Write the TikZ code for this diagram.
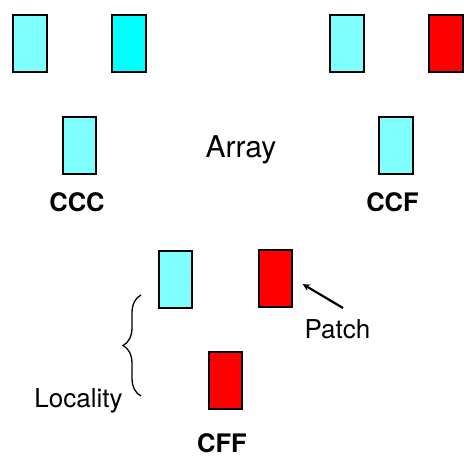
\documentclass[tikz,border=0pt]{standalone}
\usepackage{fontspec}
\setmainfont{TeX Gyre Heros}
\usetikzlibrary{positioning,arrows,decorations.pathreplacing}

\definecolor{palecyan}{RGB}{128,255,255}
\definecolor{fullcyan}{RGB}{0,255,255}
\definecolor{patchred}{RGB}{255,0,0}

\begin{document}
\begin{tikzpicture}[x=1pt,y=-1pt,
    cell/.style={draw=black, line width=2pt, minimum width=33.5pt, minimum height=57pt, inner sep=0pt},
    tag/.style={font=\fontsize{25.5}{30}\selectfont\bfseries, anchor=base},
    word/.style={font=\fontsize{26}{31}\selectfont, anchor=base},
    pointer/.style={arrows={-stealth}, line width=2.2pt, shorten >=11pt}]

    \useasboundingbox (0,0) rectangle (464,456);

    % CCC
    \node[cell, fill=palecyan] (cccA) at (30,43.5) {};
    \node[cell, fill=fullcyan] (cccB) at (129,43.5) {};
    \node[cell, fill=palecyan] (cccC) at (79.5,145) {};
    \node[tag] (ccc) at (77,211) {CCC};

    % CCF
    \node[cell, fill=palecyan] (ccfA) at (347,43.5) {};
    \node[cell, fill=patchred] (ccfB) at (446,43.5) {};
    \node[cell, fill=palecyan] (ccfC) at (396,145) {};
    \node[tag] (ccf) at (392.5,211) {CCF};

    \node[word, font=\fontsize{30}{36}\selectfont] (array) at (241,157) {Array};

    % CFF
    \node[cell, fill=palecyan] (cffA) at (175.5,279) {};
    \node[cell, fill=patchred] (cffB) at (275.5,278.5) {};
    \node[cell, fill=patchred] (cffC) at (225.5,380) {};
    \node[tag] (cff) at (222,452) {CFF};

    \node[word] (patch) at (337.5,338) {Patch};
    \coordinate (patchtail) at (343,308);
    \draw[pointer] (patchtail) -- (cffB.east);

    \coordinate (bracetop) at (141,295);
    \coordinate (bracebot) at (141,396);
    \draw[line width=1.3pt, decorate, decoration={brace, amplitude=18pt}] (bracebot) -- (bracetop);
    \node[word] (locality) at (78.5,407) {Locality};

\end{tikzpicture}
\end{document}
